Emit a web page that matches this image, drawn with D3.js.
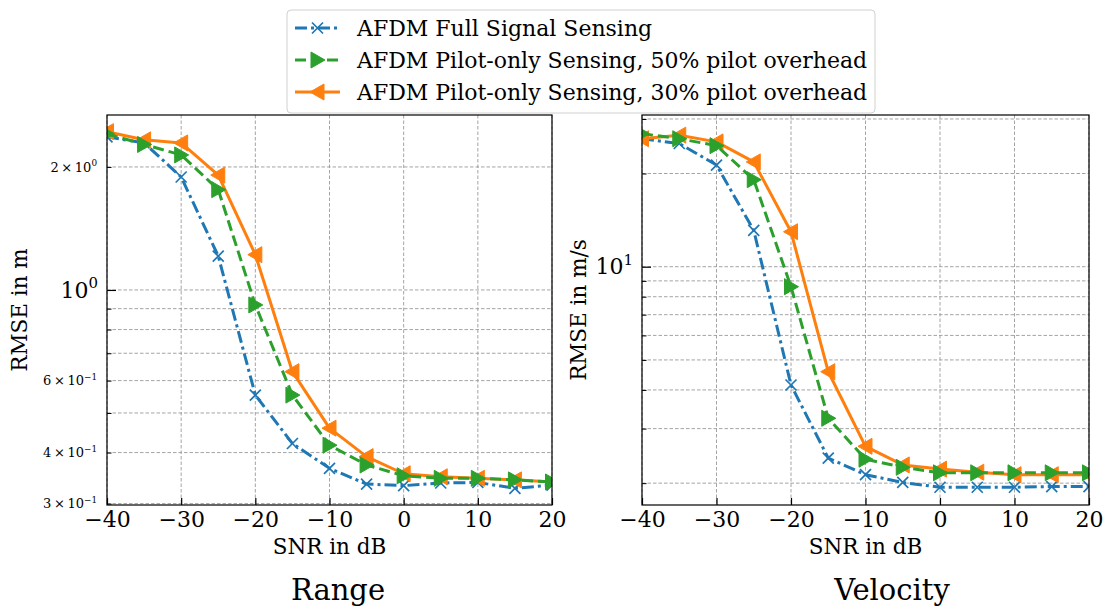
<!DOCTYPE html>
<html>
<head>
<meta charset="utf-8">
<script src="https://cdn.jsdelivr.net/npm/d3@7"></script>
<style>
  body { margin: 0; background: #fff; }
  svg { font-family: "DejaVu Serif", serif; }
</style>
</head>
<body>
<div id="chart"></div>
<script>
// SNR points shared by both panels
const snr = [-40, -35, -30, -25, -20, -15, -10, -5, 0, 5, 10, 15, 20]

// Range RMSE (m)
const rangeFull   = [2.37, 2.29, 1.89, 1.21, 0.553, 0.421, 0.366, 0.335, 0.332, 0.337, 0.338, 0.327, 0.333]
const rangePilot50 = [2.41, 2.27, 2.14, 1.76, 0.919, 0.553, 0.417, 0.373, 0.351, 0.346, 0.346, 0.343, 0.339]
const rangePilot30 = [2.44, 2.33, 2.29, 1.91, 1.22, 0.631, 0.459, 0.391, 0.355, 0.349, 0.346, 0.343, 0.339]

// Velocity RMSE (m/s)
const velFull   = [25.9, 25.0, 21.3, 13.1, 4.15, 2.41, 2.13, 2.01, 1.94, 1.94, 1.94, 1.95, 1.95]
const velPilot50 = [26.9, 25.9, 24.6, 19.1, 8.62, 3.24, 2.39, 2.25, 2.16, 2.16, 2.16, 2.16, 2.16]
const velPilot30 = [25.9, 26.6, 25.3, 21.8, 12.97, 4.58, 2.63, 2.29, 2.22, 2.17, 2.13, 2.13, 2.13]

const xTicks = [-40, -30, -20, -10, 0, 10, 20]
const legendLabels = [
  "AFDM Full Signal Sensing",
  "AFDM Pilot-only Sensing, 50% pilot overhead",
  "AFDM Pilot-only Sensing, 30% pilot overhead"
]

const blue = "#1f77b4", green = "#2ca02c", orange = "#ff7f0e"
const styles = [
  {color: blue, dash: "12,4,3,4", marker: "x"},
  {color: green, dash: "11,5", marker: ">"},
  {color: orange, dash: null, marker: "<"}
]

const width = 1103, height = 607
const plotTop = 115, plotBottom = 505
const tickFont = 22, labelFont = 21.5, minorFont = 13

const svg = d3.select("#chart").append("svg")
  .attr("width", width).attr("height", height)

const defs = svg.append("defs")

function supLabel(sel, mant, exp, size) {
  // builds "m × 10^e" (or "10^e") with a superscript exponent
  sel.text(null)
  if (mant) {
    sel.append("tspan").text(mant)
    sel.append("tspan").attr("dx", size * 0.2).text("\u00d7")
    sel.append("tspan").attr("dx", size * 0.2).text("10")
  } else {
    sel.append("tspan").text("10")
  }
  sel.append("tspan")
    .attr("dy", -size * 0.42)
    .attr("font-size", size * 0.68)
    .text(exp < 0 ? "\u2212" + (-exp) : exp)
}

function markerPath(type) {
  if (type === ">") return "M-6.5,-8L7.5,0L-6.5,8Z"
  if (type === "<") return "M6.5,-8L-7.5,0L6.5,8Z"
  return "M-5.5,-5.5L5.5,5.5M-5.5,5.5L5.5,-5.5"
}

function drawMarker(g, type, color, cx, cy) {
  let p = g.append("path")
    .attr("transform", `translate(${cx},${cy})`)
    .attr("d", markerPath(type))
  if (type === "x") p.attr("fill", "none").attr("stroke", color).attr("stroke-width", 1.7)
  else p.attr("fill", color).attr("stroke", color).attr("stroke-width", 1).attr("stroke-linejoin", "miter")
}

function panel(id, left, right, yDomain, major, minor, minorLabeled, series, yLabel, yLabelX, title, titleX) {
  const x = d3.scaleLinear().domain([-40, 20]).range([left, right])
  const y = d3.scaleLog().domain(yDomain).range([plotBottom, plotTop])
  const g = svg.append("g")

  defs.append("clipPath").attr("id", id)
    .append("rect").attr("x", left).attr("y", plotTop).attr("width", right - left).attr("height", plotBottom - plotTop)

  // grid
  const grid = g.append("g").attr("stroke", "#9a9a9a").attr("stroke-width", 0.9).attr("stroke-dasharray", "3.5,2")
  grid.selectAll(".vg").data(xTicks).enter().append("line")
    .attr("x1", d => x(d)).attr("x2", d => x(d)).attr("y1", plotTop).attr("y2", plotBottom)
  grid.selectAll(".hg").data(major.concat(minor)).enter().append("line")
    .attr("x1", left).attr("x2", right).attr("y1", d => y(d)).attr("y2", d => y(d))

  // x axis
  g.append("g")
    .attr("transform", `translate(0,${plotBottom})`)
    .call(d3.axisBottom(x).tickValues(xTicks).tickSizeInner(-7).tickSizeOuter(0).tickPadding(6)
      .tickFormat(d => d < 0 ? "\u2212" + (-d) : d))
    .call(a => a.select(".domain").remove())
    .call(a => a.selectAll("line").attr("stroke", "#000").attr("stroke-width", 1.2))
    .call(a => a.selectAll("text").attr("font-size", tickFont).attr("font-family", "DejaVu Serif").attr("fill", "#000"))

  // y axis major
  g.append("g")
    .attr("transform", `translate(${left},0)`)
    .call(d3.axisLeft(y).tickValues(major).tickSizeInner(-9).tickSizeOuter(0).tickPadding(9))
    .call(a => a.select(".domain").remove())
    .call(a => a.selectAll("line").attr("stroke", "#000").attr("stroke-width", 1.2))
    .call(a => a.selectAll("text").attr("font-size", tickFont).attr("font-family", "DejaVu Serif").attr("fill", "#000")
      .each(function (d) { supLabel(d3.select(this), null, Math.round(Math.log10(d)), tickFont) }))

  // y axis minor
  g.append("g")
    .attr("transform", `translate(${left},0)`)
    .call(d3.axisLeft(y).tickValues(minor).tickSizeInner(-4.5).tickSizeOuter(0).tickPadding(10))
    .call(a => a.select(".domain").remove())
    .call(a => a.selectAll("line").attr("stroke", "#000").attr("stroke-width", 1))
    .call(a => a.selectAll("text").attr("font-size", minorFont).attr("font-family", "DejaVu Serif").attr("fill", "#000")
      .each(function (d) {
        if (!minorLabeled.includes(d)) { d3.select(this).text(""); return }
        const e = Math.floor(Math.log10(d) + 1e-9)
        supLabel(d3.select(this), Math.round(d / Math.pow(10, e)), e, minorFont)
      }))

  // series
  const plot = g.append("g").attr("clip-path", `url(#${id})`)
  const order = [0, 2, 1]
  order.forEach(i => {
    const st = styles[i], vals = series[i]
    const line = d3.line().x((d, j) => x(snr[j])).y(d => y(d))
    plot.append("path").datum(vals)
      .attr("fill", "none").attr("stroke", st.color).attr("stroke-width", 3)
      .attr("stroke-dasharray", st.dash)
      .attr("stroke-linejoin", "round")
      .attr("d", line)
    vals.forEach((v, j) => drawMarker(plot, st.marker, st.color, x(snr[j]), y(v)))
  })

  // frame
  g.append("rect").attr("x", left).attr("y", plotTop).attr("width", right - left).attr("height", plotBottom - plotTop)
    .attr("fill", "none").attr("stroke", "#000").attr("stroke-width", 1.2)

  // labels
  g.append("text").attr("x", (left + right) / 2).attr("y", 554).attr("text-anchor", "middle")
    .attr("font-size", labelFont).text("SNR in dB")
  g.append("text").attr("transform", `translate(${yLabelX},310) rotate(-90)`)
    .attr("text-anchor", "middle").attr("dy", "0.35em").attr("font-size", labelFont).text(yLabel)
  g.append("text").attr("x", titleX).attr("y", 600).attr("text-anchor", "middle")
    .attr("font-size", 29).text(title)
}

panel("clipL", 107, 552, [0.2977, 2.68], [1], [0.3, 0.4, 0.5, 0.6, 0.7, 0.8, 0.9, 2], [0.3, 0.4, 0.6, 2],
  [rangeFull, rangePilot50, rangePilot30], "RMSE in m", 19, "Range", 338)
panel("clipR", 642, 1089, [1.70, 30.9], [10], [2, 3, 4, 5, 6, 7, 8, 9, 20, 30], [],
  [velFull, velPilot50, velPilot30], "RMSE in m/s", 578, "Velocity", 892)

// legend
const leg = svg.append("g")
leg.append("rect").attr("x", 287).attr("y", 10).attr("width", 588).attr("height", 103)
  .attr("rx", 4).attr("fill", "#fff").attr("fill-opacity", 0.85).attr("stroke", "#d0d0d0").attr("stroke-width", 1)
const rowY = [28, 60, 92]
legendLabels.forEach((lab, i) => {
  const st = styles[i]
  leg.append("line").attr("x1", 295).attr("x2", 340).attr("y1", rowY[i]).attr("y2", rowY[i])
    .attr("stroke", st.color).attr("stroke-width", 3).attr("stroke-dasharray", st.dash)
  drawMarker(leg, st.marker, st.color, 317.5, rowY[i])
  leg.append("text").attr("x", 357).attr("y", rowY[i]).attr("dy", "0.35em")
    .attr("font-size", 22).text(lab)
})
</script>
</body>
</html>
